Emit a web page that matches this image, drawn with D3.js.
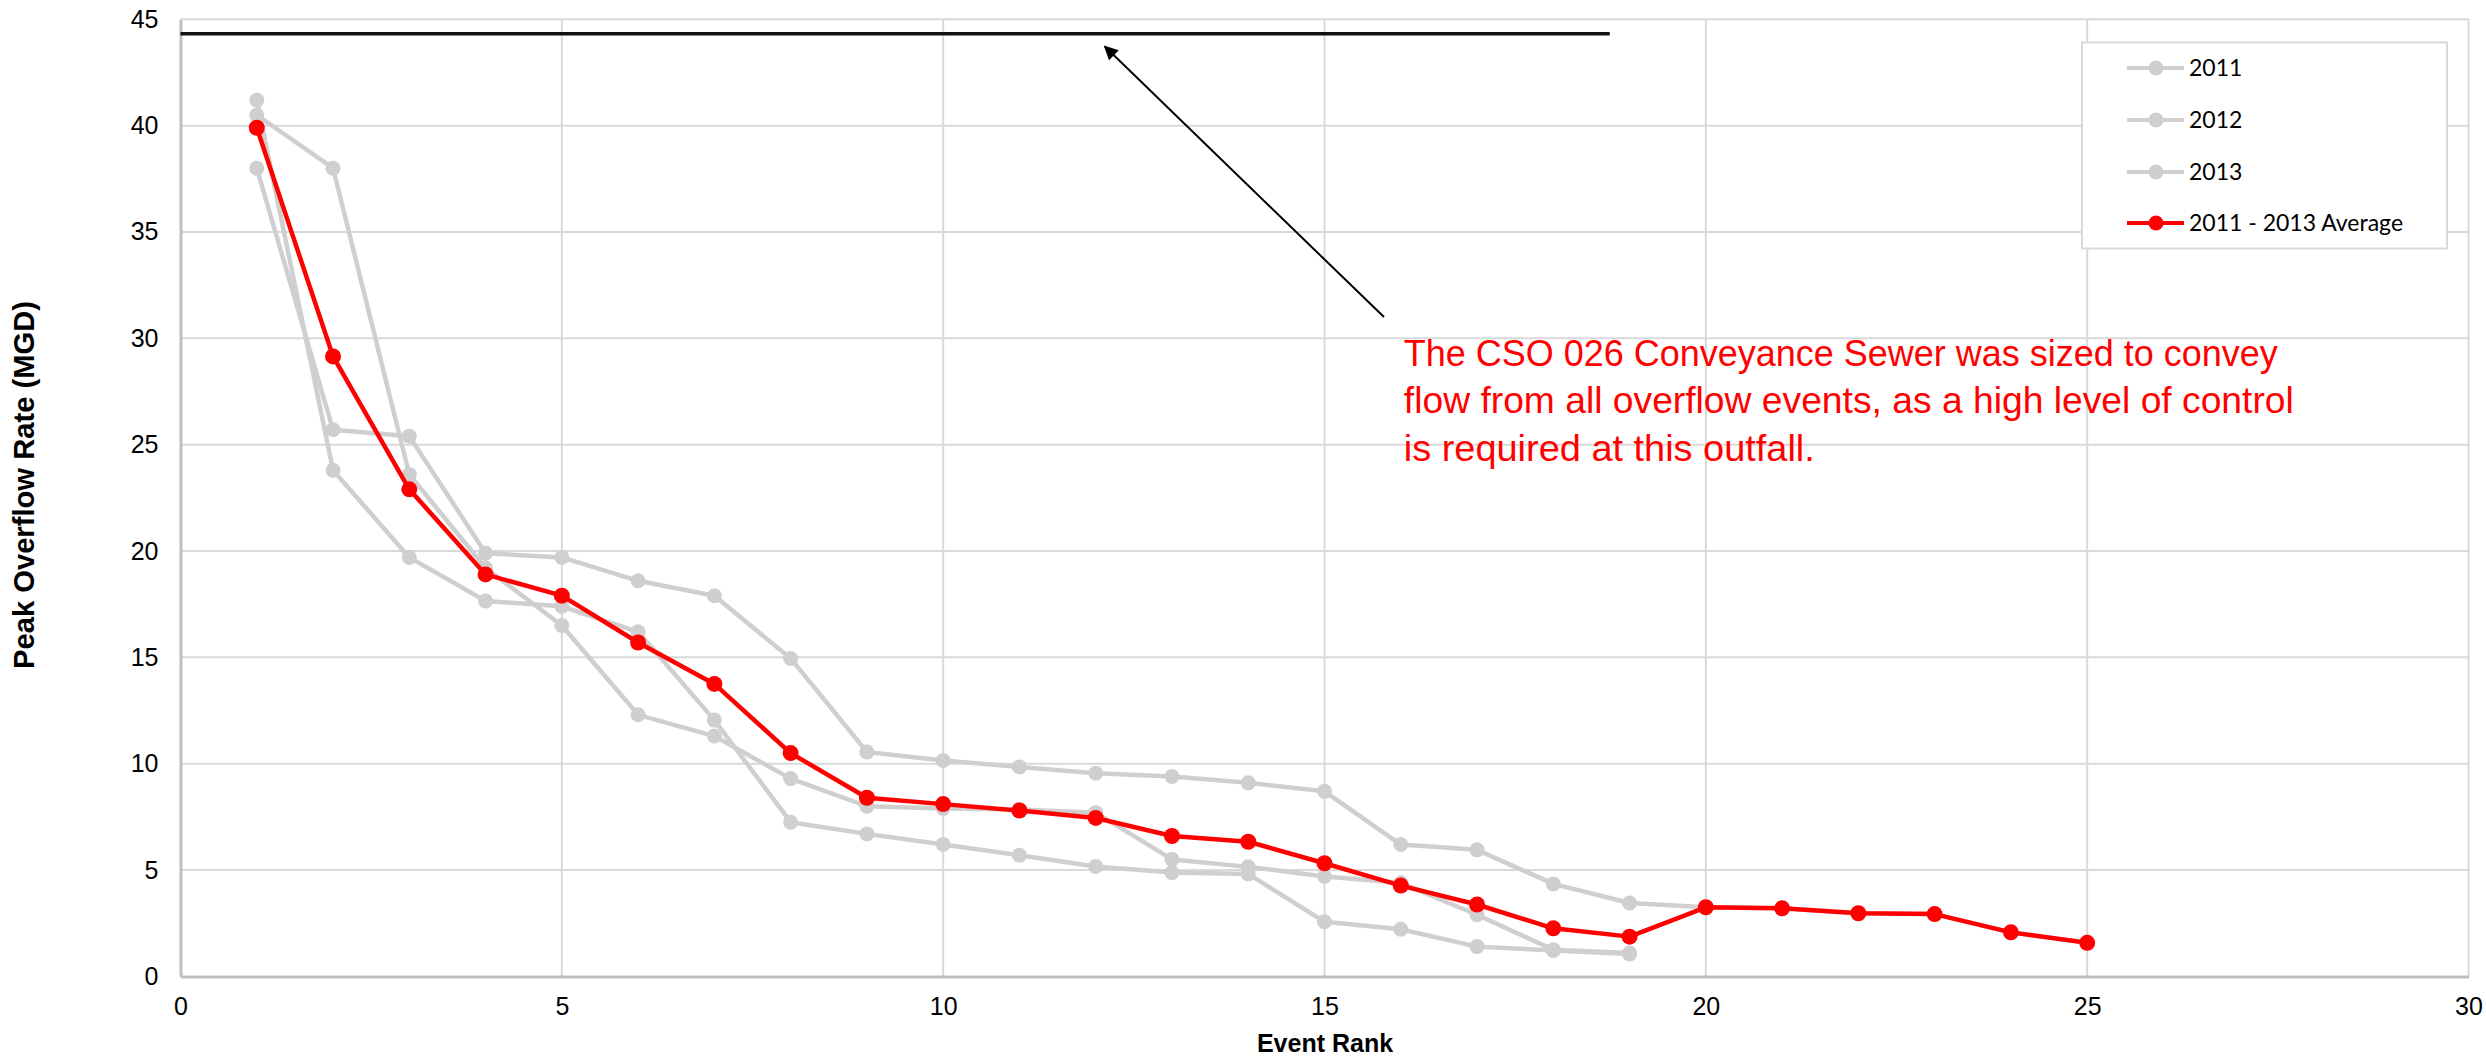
<!DOCTYPE html>
<html>
<head>
<meta charset="utf-8">
<script src="https://cdn.jsdelivr.net/npm/d3@7"></script>
<style>
  html, body { margin: 0; padding: 0; background: #ffffff; }
  svg { display: block; }
</style>
</head>
<body>
<svg id="chart" width="2486" height="1061"></svg>
<script>
// Peak overflow rate by event rank, CSO 026 (MGD)
const eventRanks = d3.range(1, 26);
const seriesNames = ["2011", "2012", "2013", "2011 - 2013 Average"];
const values2011 = [40.5, 38.0, 23.6, 19.2, 16.5, 12.3, 11.3, 9.3, 8.0, 7.9, 7.85, 7.7, 5.5, 5.15, 4.7, 4.4, 2.9, 1.25, 1.1];
const values2012 = [38.0, 25.7, 25.4, 19.9, 19.7, 18.6, 17.9, 14.95, 10.55, 10.15, 9.85, 9.55, 9.4, 9.1, 8.7, 6.2, 5.95, 4.35, 3.45, 3.25, 3.2, 2.97, 2.93, 2.07, 1.58];
const values2013 = [41.2, 23.8, 19.7, 17.65, 17.4, 16.2, 12.05, 7.25, 6.7, 6.2, 5.7, 5.17, 4.88, 4.82, 2.57, 2.22, 1.4, 1.22, 1.05];
const valuesAverage = [39.9, 29.15, 22.9, 18.9, 17.9, 15.7, 13.75, 10.5, 8.4, 8.1, 7.8, 7.45, 6.6, 6.33, 5.32, 4.27, 3.38, 2.26, 1.87, 3.25, 3.2, 2.97, 2.93, 2.07, 1.58];

const xTicks = [0, 5, 10, 15, 20, 25, 30];
const yTicks = [0, 5, 10, 15, 20, 25, 30, 35, 40, 45];

// Conveyance sewer capacity line and its note
const capacityValue = 44.32;
const capacityExtent = [0, 18.74];
const noteLines = [
  "The CSO 026 Conveyance Sewer was sized to convey",
  "flow from all overflow events, as a high level of control",
  "is required at this outfall."
];
const noteWidths = [874, 890, 411];
const noteAnchor = { rank: 16.04, value: 28.7 };
const arrowFrom = { rank: 15.78, value: 31.0 };
const arrowTo = { rank: 12.12, value: 43.72 };

const W = 2486, H = 1061;
const margin = { top: 19.3, right: 17.5, bottom: 84.6, left: 180.5 };

const svg = d3.select("#chart");
const x = d3.scaleLinear().domain([0, 30]).range([margin.left, W - margin.right]);
const y = d3.scaleLinear().domain([0, 45]).range([H - margin.bottom, margin.top]);

const grey = "#d0cece";
const red = "#ff0000";
const tickFont = "'Liberation Sans', Arial, sans-serif";

// grid
const grid = svg.append("g");
grid.selectAll("line.h").data(yTicks.filter(d => d > 0)).join("line")
  .attr("x1", x(0)).attr("x2", x(30))
  .attr("y1", d => y(d)).attr("y2", d => y(d))
  .attr("stroke", "#d9d9d9").attr("stroke-width", 2);
grid.selectAll("line.v").data(xTicks.filter(d => d > 0)).join("line")
  .attr("x1", d => x(d)).attr("x2", d => x(d))
  .attr("y1", y(0)).attr("y2", y(45))
  .attr("stroke", "#d9d9d9").attr("stroke-width", 2);

// axes
const xAxis = d3.axisBottom(x).tickValues(xTicks).tickSize(0).tickPadding(21);
const yAxis = d3.axisLeft(y).tickValues(yTicks).tickSize(0).tickPadding(22);
const gx = svg.append("g").attr("transform", `translate(0,${y(0)})`).call(xAxis);
const gy = svg.append("g").attr("transform", `translate(${x(0)},0)`).call(yAxis);
[gx, gy].forEach(g => {
  g.select(".domain").attr("stroke", "#bfbfbf").attr("stroke-width", 3);
  g.selectAll("text").attr("font-family", tickFont).attr("font-size", 25).attr("fill", "#000");
});
gx.selectAll("text").attr("dy", "0.71em");

// axis titles
svg.append("text")
  .attr("x", 1325).attr("y", 1052)
  .attr("text-anchor", "middle")
  .attr("font-family", tickFont).attr("font-weight", "bold").attr("font-size", 25)
  .text("Event Rank");
svg.append("text")
  .attr("transform", "translate(34,485) rotate(-90)")
  .attr("text-anchor", "middle")
  .attr("font-family", tickFont).attr("font-weight", "bold").attr("font-size", 29)
  .attr("textLength", 368).attr("lengthAdjust", "spacingAndGlyphs")
  .text("Peak Overflow Rate (MGD)");

// capacity line
svg.append("line")
  .attr("x1", x(capacityExtent[0])).attr("x2", x(capacityExtent[1]))
  .attr("y1", y(capacityValue)).attr("y2", y(capacityValue))
  .attr("stroke", "#111").attr("stroke-width", 3.7);

// series
const line = d3.line().x(d => x(d.rank)).y(d => y(d.value));
const seriesData = [
  { name: seriesNames[0], values: values2011, color: grey, width: 4.5, r: 7.5 },
  { name: seriesNames[1], values: values2012, color: grey, width: 4.5, r: 7.5 },
  { name: seriesNames[2], values: values2013, color: grey, width: 4.5, r: 7.5 },
  { name: seriesNames[3], values: valuesAverage, color: red, width: 4.5, r: 8 }
];
seriesData.forEach(s => {
  const pts = s.values.map((v, i) => ({ rank: eventRanks[i], value: v }));
  const g = svg.append("g");
  g.append("path").datum(pts)
    .attr("d", line).attr("fill", "none")
    .attr("stroke", s.color).attr("stroke-width", s.width)
    .attr("stroke-linejoin", "round");
  g.selectAll("circle").data(pts).join("circle")
    .attr("cx", d => x(d.rank)).attr("cy", d => y(d.value))
    .attr("r", s.r).attr("fill", s.color);
});

// note with arrow
const defs = svg.append("defs");
defs.append("marker")
  .attr("id", "arrowHead")
  .attr("viewBox", "0 0 10 10").attr("refX", 9).attr("refY", 5)
  .attr("markerWidth", 7).attr("markerHeight", 7)
  .attr("markerUnits", "strokeWidth")
  .attr("orient", "auto")
  .append("path").attr("d", "M0,0 L10,5 L0,10 Z").attr("fill", "#000");
svg.append("line")
  .attr("x1", x(arrowFrom.rank)).attr("y1", y(arrowFrom.value))
  .attr("x2", x(arrowTo.rank)).attr("y2", y(arrowTo.value))
  .attr("stroke", "#000").attr("stroke-width", 2)
  .attr("marker-end", "url(#arrowHead)");

const note = svg.append("g")
  .attr("font-family", tickFont).attr("font-size", 36).attr("fill", red);
noteLines.forEach((t, i) => {
  note.append("text")
    .attr("x", x(noteAnchor.rank))
    .attr("y", y(noteAnchor.value) + i * 47.5)
    .attr("textLength", noteWidths[i]).attr("lengthAdjust", "spacingAndGlyphs")
    .text(t);
});

// legend
const lg = svg.append("g");
lg.append("rect")
  .attr("x", 2082).attr("y", 42.5).attr("width", 365).attr("height", 206)
  .attr("fill", "#fff").attr("stroke", "#d9d9d9").attr("stroke-width", 2);
const rowY = [68, 120, 172, 223];
seriesData.forEach((s, i) => {
  const row = lg.append("g").attr("transform", `translate(0,${rowY[i]})`);
  row.append("line").attr("x1", 2127).attr("x2", 2184).attr("y1", 0).attr("y2", 0)
    .attr("stroke", s.color).attr("stroke-width", 4);
  row.append("circle").attr("cx", 2156).attr("cy", 0).attr("r", 7.5).attr("fill", s.color);
  row.append("text").attr("x", 2189).attr("y", 0).attr("dy", "0.36em")
    .attr("font-family", "Lato, 'Open Sans', sans-serif").attr("font-size", 23)
    .attr("fill", "#000").text(s.name);
});
</script>
</body>
</html>
